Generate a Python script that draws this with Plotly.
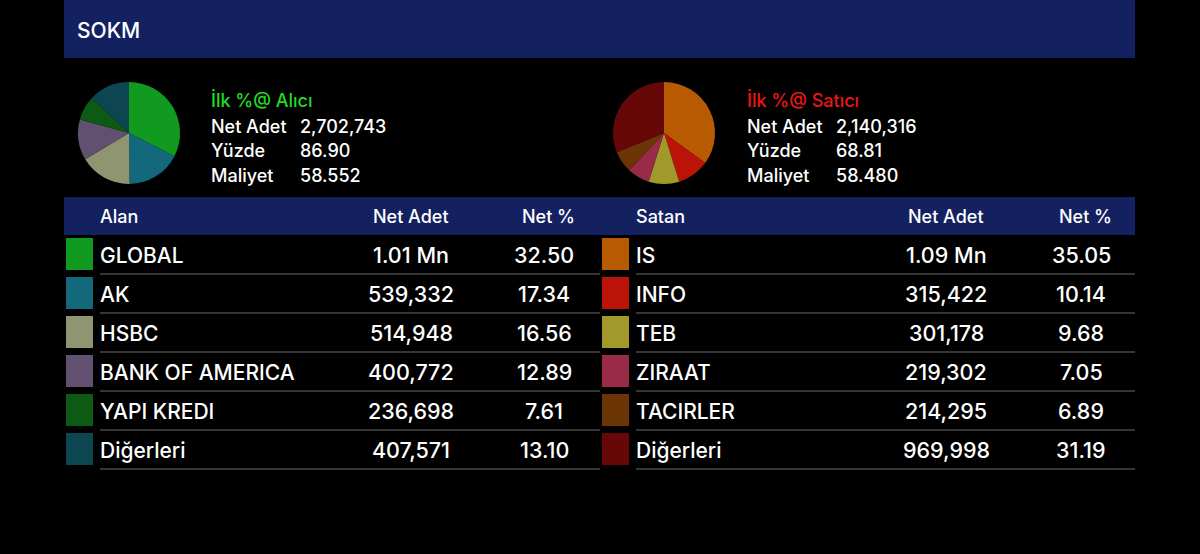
import plotly.graph_objects as go

# ---------------- data ----------------
title = "SOKM"

buy_names = ["GLOBAL", "AK", "HSBC", "BANK OF AMERICA", "YAPI KREDI", "Diğerleri"]
buy_qty = ["1.01 Mn", "539,332", "514,948", "400,772", "236,698", "407,571"]
buy_pct = [32.50, 17.34, 16.56, 12.89, 7.61, 13.10]
buy_colors = ["#119a20", "#13687b", "#8f9571", "#61506f", "#0c5a13", "#0d4550"]

sell_names = ["IS", "INFO", "TEB", "ZIRAAT", "TACIRLER", "Diğerleri"]
sell_qty = ["1.09 Mn", "315,422", "301,178", "219,302", "214,295", "969,998"]
sell_pct = [35.05, 10.14, 9.68, 7.05, 6.89, 31.19]
sell_colors = ["#b85a02", "#bb1308", "#a19a2b", "#9a2b48", "#6b3506", "#670808"]

buy_summary_title = "İlk %@ Alıcı"
sell_summary_title = "İlk %@ Satıcı"
summary_labels = ["Net Adet", "Yüzde", "Maliyet"]
buy_summary = ["2,702,743", "86.90", "58.552"]
sell_summary = ["2,140,316", "68.81", "58.480"]

buy_headers = ["Alan", "Net Adet", "Net %"]
sell_headers = ["Satan", "Net Adet", "Net %"]

# ---------------- layout ----------------
W, H = 1200, 554
FONT = "Inter, Noto Sans, Liberation Sans, sans-serif"
NAVY = "#142160"

fig = go.Figure()

def pie_domain(cx, cy, r):
    return dict(x=[(cx - r) / W, (cx + r) / W], y=[1 - (cy + r) / H, 1 - (cy - r) / H])

fig.add_trace(go.Pie(values=buy_pct, labels=buy_names, marker=dict(colors=buy_colors, line=dict(width=0)),
                     sort=False, direction="clockwise", rotation=0, textinfo="none", hoverinfo="label+percent",
                     domain=pie_domain(129, 133, 51), showlegend=False))
fig.add_trace(go.Pie(values=sell_pct, labels=sell_names, marker=dict(colors=sell_colors, line=dict(width=0)),
                     sort=False, direction="clockwise", rotation=0, textinfo="none", hoverinfo="label+percent",
                     domain=pie_domain(664, 133, 51), showlegend=False))

shapes = []
annotations = []

def rect(x0, y0, x1, y1, color):
    shapes.append(dict(type="rect", xref="x", yref="y", x0=x0, x1=x1, y0=y0, y1=y1,
                       fillcolor=color, line=dict(width=0), layer="below"))

def line(x0, x1, y, color="#6a6a6a"):
    shapes.append(dict(type="line", xref="x", yref="y", x0=x0, x1=x1, y0=y, y1=y,
                       line=dict(color=color, width=1), layer="below"))

def text(x, y, s, size, color="white", anchor="left"):
    xs = {"left": -3, "center": 0, "right": 3}[anchor]
    annotations.append(dict(x=x, y=y, xref="x", yref="y", text=s, showarrow=False,
                            xanchor=anchor, yanchor="middle", xshift=xs,
                            font=dict(family=FONT, size=size, color=color, weight=500)))

# title band
rect(64, 0, 1135, 58, NAVY)
text(78, 30, title, 21)

# summaries
def summary(x, title_s, title_color, values):
    text(x, 100, title_s, 18, title_color)
    for i, (lab, val) in enumerate(zip(summary_labels, values)):
        y = 126 + 24.5 * i
        text(x, y, lab, 18)
        text(x + 89, y, val, 18)

summary(212, buy_summary_title, "#22dd22", buy_summary)
summary(748, sell_summary_title, "#ee1515", sell_summary)

# table header band
rect(64, 197, 1135, 235, NAVY)

def table(x0, x_end, names, qty, pct, colors, headers, qty_cx, pct_cx):
    text(x0 + 37, 216, headers[0], 18)
    text(qty_cx, 216, headers[1], 18, anchor="center")
    text(pct_cx + 4, 216, headers[2], 18, anchor="center")
    for i in range(len(names)):
        top = 235 + 39 * i
        rect(x0 + 2, top + 3, x0 + 29, top + 35, colors[i])
        line(x0 + 36, x_end, top + 39)
        text(x0 + 37, top + 20, names[i], 21)
        text(qty_cx, top + 20, qty[i], 21.5, anchor="center")
        text(pct_cx, top + 20, f"{pct[i]:.2f}", 21.5, anchor="center")

table(64, 600, buy_names, buy_qty, buy_pct, buy_colors, buy_headers, 411, 544)
table(600, 1135, sell_names, sell_qty, sell_pct, sell_colors, sell_headers, 946, 1081)

fig.update_layout(
    width=W, height=H,
    margin=dict(l=0, r=0, t=0, b=0),
    paper_bgcolor="black", plot_bgcolor="black",
    xaxis=dict(range=[0, W], visible=False, fixedrange=True),
    yaxis=dict(range=[H, 0], visible=False, fixedrange=True),
    shapes=shapes, annotations=annotations,
)

fig.write_html("out.html", config={"displayModeBar": False},
               post_script="document.body.style.margin='0';document.body.style.background='black';")
